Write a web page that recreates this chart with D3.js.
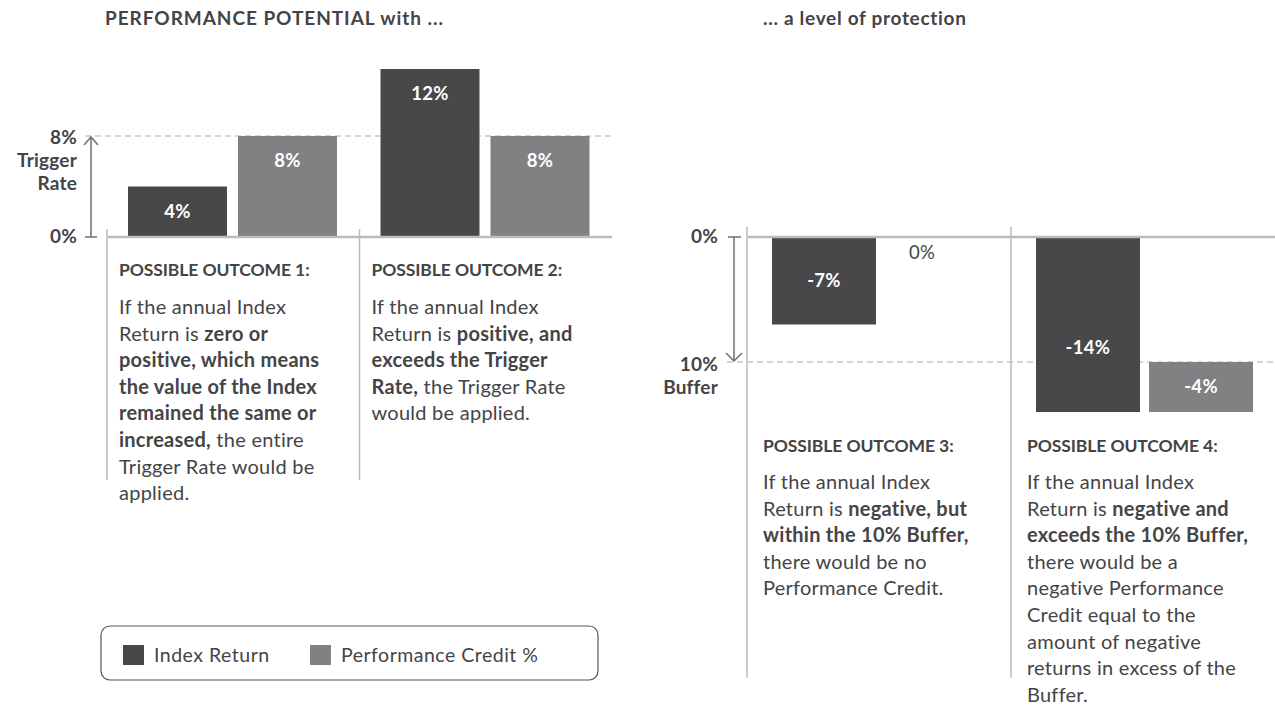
<!DOCTYPE html>
<html><head><meta charset="utf-8">
<script src="https://cdn.jsdelivr.net/npm/d3@7"></script>
<style>
html,body{margin:0;padding:0;background:#fff;}
svg{display:block;font-family:Lato,"Open Sans",sans-serif;}
</style></head><body>
<svg id="chart" width="1275" height="706"></svg>
<script>
// ---- data ----
const seriesNames = ["Index Return", "Performance Credit %"];
const leftOutcomes = ["POSSIBLE OUTCOME 1:", "POSSIBLE OUTCOME 2:"];
const leftIndexReturn = [4, 12];
const leftCredit = [8, 8];
const rightOutcomes = ["POSSIBLE OUTCOME 3:", "POSSIBLE OUTCOME 4:"];
const rightIndexReturn = [-7, -14];
const rightCredit = [0, -4];
const triggerRate = 8;
const bufferRate = 10;
const leftTitle = "PERFORMANCE POTENTIAL with ...";
const rightTitle = "... a level of protection";
const leftAxisLabels = [["8%", "Trigger", "Rate"], ["0%"]];
const rightAxisLabels = [["0%"], ["10%", "Buffer"]];
// text lines: [text, bold]
const outcomeTexts = [
  [[["If the annual Index", 0]], [["Return is ", 0], ["zero or", 1]], [["positive, which means", 1]], [["the value of the Index", 1]], [["remained the same or", 1]], [["increased,", 1], [" the entire", 0]], [["Trigger Rate would be", 0]], [["applied.", 0]]],
  [[["If the annual Index", 0]], [["Return is ", 0], ["positive, and", 1]], [["exceeds the Trigger", 1]], [["Rate,", 1], [" the Trigger Rate", 0]], [["would be applied.", 0]]],
  [[["If the annual Index", 0]], [["Return is ", 0], ["negative, but", 1]], [["within the 10% Buffer,", 1]], [["there would be no", 0]], [["Performance Credit.", 0]]],
  [[["If the annual Index", 0]], [["Return is ", 0], ["negative and", 1]], [["exceeds the 10% Buffer,", 1]], [["there would be a", 0]], [["negative Performance", 0]], [["Credit equal to the", 0]], [["amount of negative", 0]], [["returns in excess of the", 0]], [["Buffer.", 0]]]
];

// ---- style ----
const DARK = "#48484a", GREY = "#818184", TEXT = "#444446", AXIS = "#6f6f71", LINE = "#bcbcbc", DASH = "#a9a9a9";
const svg = d3.select("#chart");

// titles
svg.append("text").attr("x", 105).attr("y", 25).text(leftTitle)
  .attr("font-size", 19).attr("font-weight", 700).attr("fill", TEXT).attr("letter-spacing", 0.95);
svg.append("text").attr("x", 763).attr("y", 25).text(rightTitle)
  .attr("font-size", 19).attr("font-weight", 700).attr("fill", TEXT).attr("letter-spacing", 0.7);

function fmt(v){ return v + "%"; }

// ================= LEFT PANEL =================
const yL = d3.scaleLinear().domain([0, triggerRate, d3.max(leftIndexReturn)]).range([237, 136, 69]);
const xL = d3.scaleBand().domain(leftOutcomes).range([107, 612]);
const xLi = d3.scaleBand().domain(seriesNames).range([21, 230]).paddingInner(0.1);

svg.append("line").attr("x1", 85).attr("x2", 612).attr("y1", yL(triggerRate)).attr("y2", yL(triggerRate))
  .attr("stroke", DASH).attr("stroke-width", 1.2).attr("stroke-dasharray", "6,4");

const leftData = [];
leftOutcomes.forEach((o, i) => {
  leftData.push({o, s: seriesNames[0], v: leftIndexReturn[i], c: DARK});
  leftData.push({o, s: seriesNames[1], v: leftCredit[i], c: GREY});
});
const gL = svg.append("g");
gL.selectAll("rect").data(leftData).join("rect")
  .attr("x", d => xL(d.o) + xLi(d.s)).attr("width", xLi.bandwidth())
  .attr("y", d => yL(d.v)).attr("height", d => yL(0) - yL(d.v)).attr("fill", d => d.c);
gL.selectAll("text").data(leftData).join("text")
  .attr("x", d => xL(d.o) + xLi(d.s) + xLi.bandwidth() / 2)
  .attr("y", d => { const t = yL(d.v), h = yL(0) - t; return t + Math.min(h / 2, 25); })
  .attr("dy", "0.35em").attr("text-anchor", "middle").attr("fill", "#fff")
  .attr("font-size", 18.5).attr("font-weight", 700).attr("letter-spacing", 0.3).text(d => fmt(d.v));

svg.append("line").attr("x1", 107).attr("x2", 612).attr("y1", yL(0)).attr("y2", yL(0))
  .attr("stroke", LINE).attr("stroke-width", 2.5);
leftOutcomes.forEach(o => {
  svg.append("line").attr("x1", xL(o)).attr("x2", xL(o)).attr("y1", 229).attr("y2", 480)
    .attr("stroke", LINE).attr("stroke-width", 1.5);
});
const axL = svg.append("g").attr("stroke", AXIS).attr("stroke-width", 1.5).attr("fill", "none");
axL.append("line").attr("x1", 91).attr("x2", 91).attr("y1", yL(0)).attr("y2", yL(triggerRate) + 1);
axL.append("path").attr("d", `M84,${yL(triggerRate) + 9} L91,${yL(triggerRate) + 1} L98,${yL(triggerRate) + 9}`);
axL.append("line").attr("x1", 85).attr("x2", 97).attr("y1", yL(0)).attr("y2", yL(0));
const axisTxt = (x, y0, lines) => {
  const t = svg.append("text").attr("text-anchor", "end").attr("fill", TEXT)
    .attr("font-size", 19).attr("font-weight", 700).attr("letter-spacing", 0.2);
  lines.forEach((l, k) => t.append("tspan").attr("x", x).attr("y", y0 + k * 23).attr("dy", "0.35em").text(l));
};
axisTxt(77, yL(triggerRate) + 1, leftAxisLabels[0]);
axisTxt(77, yL(0) - 1, leftAxisLabels[1]);

// ================= RIGHT PANEL =================
const yR = d3.scaleLinear().domain([0, d3.min(rightIndexReturn)]).range([237, 412]);
const xR = d3.scaleBand().domain(rightOutcomes).range([747, 1275]);
const xRi = d3.scaleBand().domain(seriesNames).range([25, 242]).paddingInner(0.08);

svg.append("line").attr("x1", 727).attr("x2", 1275).attr("y1", yR(-bufferRate)).attr("y2", yR(-bufferRate))
  .attr("stroke", DASH).attr("stroke-width", 1.2).attr("stroke-dasharray", "6,4");

const rightData = [];
rightOutcomes.forEach((o, i) => {
  rightData.push({o, s: seriesNames[0], v: rightIndexReturn[i], from: 0, to: rightIndexReturn[i], c: DARK});
  const cv = rightCredit[i];
  rightData.push({o, s: seriesNames[1], v: cv, from: cv < 0 ? -bufferRate : 0, to: cv < 0 ? -bufferRate + cv : 0, c: GREY});
});
const gR = svg.append("g");
gR.selectAll("rect").data(rightData.filter(d => d.v !== 0)).join("rect")
  .attr("x", d => xR(d.o) + xRi(d.s)).attr("width", xRi.bandwidth())
  .attr("y", d => yR(d.from)).attr("height", d => yR(d.to) - yR(d.from)).attr("fill", d => d.c);
gR.selectAll("text").data(rightData).join("text")
  .attr("x", d => xR(d.o) + xRi(d.s) + xRi.bandwidth() / 2 - (d.v === 0 ? 15 : 0))
  .attr("y", d => { if (d.v === 0) return yR(0) + 16; const b = yR(d.to), h = b - yR(d.from); return b - Math.min(h / 2, 64); })
  .attr("dy", "0.35em").attr("text-anchor", "middle").attr("fill", d => d.v === 0 ? TEXT : "#fff")
  .attr("font-size", 18.5).attr("letter-spacing", 0.3).attr("font-weight", d => d.v === 0 ? 400 : 700).text(d => fmt(d.v));

svg.append("line").attr("x1", 747).attr("x2", 1275).attr("y1", yR(0)).attr("y2", yR(0))
  .attr("stroke", LINE).attr("stroke-width", 2.5);
rightOutcomes.forEach(o => {
  svg.append("line").attr("x1", xR(o)).attr("x2", xR(o)).attr("y1", 227).attr("y2", 678)
    .attr("stroke", LINE).attr("stroke-width", 1.5);
});
const axR = svg.append("g").attr("stroke", AXIS).attr("stroke-width", 1.5).attr("fill", "none");
axR.append("line").attr("x1", 734).attr("x2", 734).attr("y1", yR(0)).attr("y2", yR(-bufferRate) - 1);
axR.append("path").attr("d", `M726,${yR(-bufferRate) - 9} L734,${yR(-bufferRate) - 1} L742,${yR(-bufferRate) - 9}`);
axR.append("line").attr("x1", 728).attr("x2", 741).attr("y1", yR(0)).attr("y2", yR(0));
axisTxt(718, yR(0) - 1, rightAxisLabels[0]);
axisTxt(718, yR(-bufferRate) + 2, rightAxisLabels[1]);

// ================= OUTCOME TEXTS =================
function outcomeBlock(x, yHead, yBody, head, lines) {
  svg.append("text").attr("x", x).attr("y", yHead).attr("dy", "0.35em").text(head)
    .attr("font-size", 17.5).attr("font-weight", 700).attr("fill", TEXT).attr("letter-spacing", -0.1);
  const t = svg.append("text").attr("font-size", 20).attr("fill", TEXT).attr("letter-spacing", 0.25);
  lines.forEach((segs, k) => {
    segs.forEach((s, j) => {
      const ts = t.append("tspan").text(s[0]).attr("font-weight", s[1] ? 700 : 400);
      if (j === 0) ts.attr("x", x).attr("y", yBody + k * 26.6).attr("dy", "0.35em");
    });
  });
}
leftOutcomes.forEach((o, i) => outcomeBlock(xL(o) + 12, 270, 307, o, outcomeTexts[i]));
rightOutcomes.forEach((o, i) => outcomeBlock(xR(o) + 16, 446, 482, o, outcomeTexts[i + 2]));

// ================= LEGEND =================
const lg = svg.append("g");
lg.append("rect").attr("x", 101).attr("y", 626).attr("width", 497).attr("height", 54).attr("rx", 9)
  .attr("fill", "none").attr("stroke", "#555").attr("stroke-width", 1.2);
const legendX = [123, 310];
seriesNames.forEach((s, i) => {
  lg.append("rect").attr("x", legendX[i]).attr("y", 645).attr("width", 21).attr("height", 20)
    .attr("fill", i === 0 ? DARK : GREY);
  lg.append("text").attr("x", legendX[i] + 31).attr("y", 655).attr("dy", "0.35em").text(s)
    .attr("font-size", 19.5).attr("letter-spacing", 0.5).attr("fill", TEXT);
});
</script>
</body></html>
